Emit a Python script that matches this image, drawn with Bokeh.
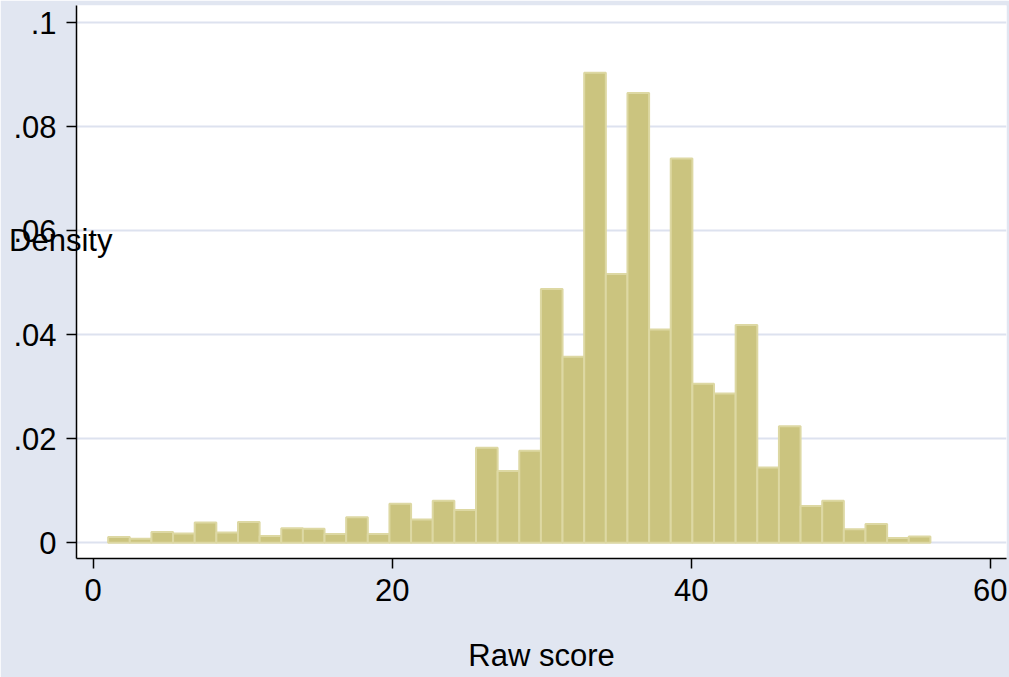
from bokeh.plotting import figure
from bokeh.models import FixedTicker, Range1d
from bokeh.embed import file_html
from bokeh.resources import INLINE

# Histogram of raw scores: 38 bins from 1 to 56, heights in density units
score_min = 1.0
score_max = 56.0
density = [
    0.0011, 0.0008, 0.0021, 0.0018, 0.0039, 0.0020, 0.0040, 0.0013, 0.0028, 0.0027,
    0.0017, 0.0049, 0.0017, 0.0075, 0.0045, 0.0081, 0.0063, 0.0183, 0.0138, 0.0177,
    0.0488, 0.0358, 0.0904, 0.0517, 0.0865, 0.0410, 0.0739, 0.0306, 0.0287, 0.0419,
    0.0145, 0.0224, 0.0071, 0.0081, 0.0026, 0.0036, 0.0009, 0.0012,
]
x_ticks = [0, 20, 40, 60]
y_ticks = [0, 0.02, 0.04, 0.06, 0.08, 0.1]
y_tick_labels = ["0", ".02", ".04", ".06", ".08", ".1"]
x_title = "Raw score"
y_title = "Density"

nbins = len(density)
width = (score_max - score_min) / nbins
lefts = [score_min + i * width for i in range(nbins)]
rights = [l + width for l in lefts]
bottoms = [0.0] * nbins

BG = "#e1e6f1"
FONT = "Liberation Sans"
FS = "31px"

p = figure(width=1009, height=677, output_backend="svg", toolbar_location=None,
           x_range=Range1d(-1.117, 61.09), y_range=Range1d(-0.00302, 0.10333),
           min_border_left=76, min_border_right=3, min_border_top=5, min_border_bottom=119)
p.background_fill_color = "white"
p.border_fill_color = BG
p.outline_line_color = None

p.quad(left=lefts, right=rights, top=density, bottom=bottoms,
       fill_color="#cbc47f", line_color="#ddd8a3", line_width=2)

# axes
p.xaxis.ticker = FixedTicker(ticks=x_ticks)
p.yaxis.ticker = FixedTicker(ticks=y_ticks)
p.yaxis.major_label_overrides = {t: s for t, s in zip(y_ticks, y_tick_labels)}
for ax in (p.xaxis[0], p.yaxis[0]):
    ax.axis_line_color = "black"
    ax.axis_line_width = 1.5
    ax.major_tick_line_color = "black"
    ax.major_tick_line_width = 1.5
    ax.major_tick_out = 10
    ax.major_tick_in = 0
    ax.minor_tick_line_color = None
    ax.major_label_text_font = FONT
    ax.major_label_text_font_size = FS
    ax.major_label_text_color = "black"
    ax.axis_label_text_font = FONT
    ax.axis_label_text_font_size = FS
    ax.axis_label_text_font_style = "normal"
    ax.axis_label_text_color = "black"

p.xaxis.major_label_standoff = 10
p.xaxis.axis_label = x_title
p.xaxis.axis_label_standoff = 34
p.yaxis.major_label_standoff = 10

# horizontal y title that overlaps the tick labels, as in the reference
p.yaxis.axis_label = y_title + "\n \n "
p.yaxis.axis_label_orientation = "horizontal"
p.yaxis.axis_label_standoff = -102

p.xgrid.grid_line_color = None
p.ygrid.grid_line_color = "#dde2ef"
p.ygrid.grid_line_width = 2

open("out.html", "w").write(file_html(p, INLINE))
